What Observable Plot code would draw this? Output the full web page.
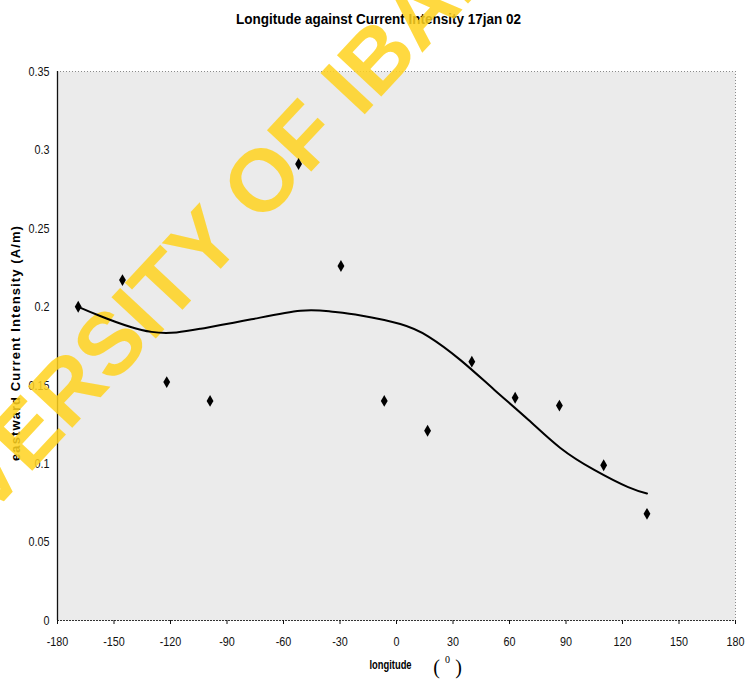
<!DOCTYPE html>
<html>
<head>
<meta charset="utf-8">
<script src="https://cdn.jsdelivr.net/npm/d3@7"></script>
<script src="https://cdn.jsdelivr.net/npm/@observablehq/plot@0.6"></script>
<style>
  html, body { margin: 0; padding: 0; background: #ffffff; overflow: hidden; }
  #chart svg { display: block; }
</style>
</head>
<body>
<div id="chart"></div>
<script>
// ---- data ----
const longitude = [-169, -145.5, -122, -99, -52, -29.5, -6.5, 16.5, 40, 63, 86.5, 110, 133];
const intensity = [0.200, 0.217, 0.152, 0.140, 0.291, 0.226, 0.140, 0.121, 0.165, 0.142, 0.137, 0.099, 0.068];

const trendLon = [-169, -157, -130, -104, -77, -51, -35, -19, 2, 17, 34, 52, 70, 87, 105, 123, 133];
const trendVal = [0.200, 0.194, 0.184, 0.186, 0.192, 0.1975, 0.197, 0.1945, 0.189, 0.181, 0.166, 0.147, 0.128, 0.110, 0.096, 0.085, 0.081];

const xTicks = [-180, -150, -120, -90, -60, -30, 0, 30, 60, 90, 120, 150, 180];
const yTicks = [0, 0.05, 0.1, 0.15, 0.2, 0.25, 0.3, 0.35];

const titleText = "Longitude against Current Intensity 17jan 02";
const yLabel = "eastward Current Intensity (A/m)";
const xLabel = "longitude";
const xUnitOpen = "(";
const xUnitClose = ")";
const xUnitDegree = "0";
const watermark = "UNIVERSITY OF IBADAN";

const points = longitude.map((x, i) => ({x, y: intensity[i]}));
const trend = trendLon.map((x, i) => ({x, y: trendVal[i]}));

const sans = "'Liberation Sans', Arial, sans-serif";
const serif = "'Liberation Serif', 'Times New Roman', serif";

const chart = Plot.plot({
  width: 745,
  height: 680,
  marginLeft: 57,
  marginRight: 10,
  marginTop: 71,
  marginBottom: 60,
  style: {background: "#ffffff", fontFamily: sans, fontSize: "12px", color: "#111"},
  x: {domain: [-180, 180]},
  y: {domain: [0, 0.35]},
  marks: [
    Plot.frame({fill: "#ebebeb", stroke: null}),
    Plot.ruleY([0.35], {stroke: "#8a8a8a", strokeDasharray: "1,2"}),
    Plot.ruleX([180], {stroke: "#8a8a8a", strokeDasharray: "1,2"}),
    Plot.ruleY([0], {stroke: "#333", strokeDasharray: "2,1"}),
    Plot.ruleX([-180], {stroke: "#111", strokeWidth: 1.3}),
    Plot.axisX({ticks: xTicks, tickSize: 4, tickPadding: 12, tickFormat: d => String(d), fontSize: 13.5, fontFamily: sans, label: null, className: "tick"}),
    Plot.axisY({ticks: yTicks, tickSize: 0, tickPadding: 8, tickFormat: d => String(+d.toFixed(2)), fontSize: 13.5, fontFamily: sans, label: null, className: "tick"}),
    Plot.text([titleText], {frameAnchor: "top", textAnchor: "middle", dx: -18, dy: -58, fontSize: 15, fontWeight: "bold", fontFamily: sans, fill: "#000", className: "title"}),
    Plot.text([yLabel], {frameAnchor: "left", textAnchor: "middle", dx: -42, dy: -3, rotate: -90, fontSize: 13, fontWeight: "bold", fontFamily: sans, fill: "#000", className: "ylab"}),
    Plot.text([xLabel], {frameAnchor: "bottom", textAnchor: "middle", dx: -6, dy: 48, fontSize: 13, fontWeight: "bold", fontFamily: sans, fill: "#000", className: "xlab"}),
    Plot.text([xUnitOpen], {frameAnchor: "bottom", textAnchor: "middle", dx: 40, dy: 53, fontSize: 20, fontFamily: serif, fill: "#000"}),
    Plot.text([xUnitClose], {frameAnchor: "bottom", textAnchor: "middle", dx: 62, dy: 53, fontSize: 20, fontFamily: serif, fill: "#000"}),
    Plot.text([xUnitDegree], {frameAnchor: "bottom", textAnchor: "middle", dx: 51, dy: 42, fontSize: 10, fontFamily: serif, fill: "#000"}),
    Plot.text([watermark], {frameAnchor: "top-left", textAnchor: "middle", lineAnchor: "bottom", dx: 182, dy: 177, rotate: -47, fontSize: 88, fontWeight: "bold", fontFamily: sans, fill: "#ffd21f", fillOpacity: 0.85}),
    Plot.line(trend, {x: "x", y: "y", curve: "natural", stroke: "#000", strokeWidth: 2}),
    Plot.dot(points, {x: "x", y: "y", symbol: "diamond", r: 3.6, fill: "#000", stroke: null})
  ]
});

document.getElementById("chart").appendChild(chart);

// condense texts to mimic the narrow typeface of the original
function condense(selector, factor) {
  d3.select(chart).selectAll(selector).each(function() {
    const len = this.getComputedTextLength();
    if (len > 0) {
      this.setAttribute("textLength", (len * factor).toFixed(1));
      this.setAttribute("lengthAdjust", "spacingAndGlyphs");
    }
  });
}
condense("g.tick text", 0.8);
condense("g.title text", 0.9);
condense("g.xlab text", 0.72);
d3.select(chart).selectAll("g.ylab text").style("letter-spacing", "1.1px");
</script>
</body>
</html>
